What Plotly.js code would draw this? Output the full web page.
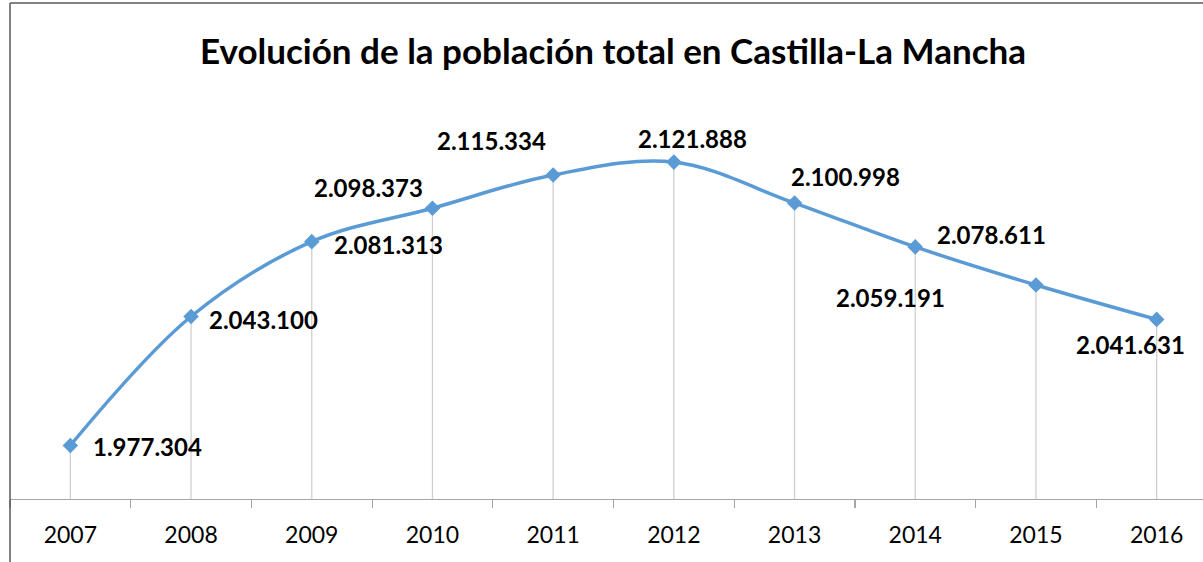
<!DOCTYPE html>
<html>
<head>
<meta charset="utf-8">
<script src="https://cdn.plot.ly/plotly-3.0.1.min.js"></script>
<style>
  html, body { margin: 0; padding: 0; background: #fff; overflow: hidden; width: 1203px; height: 562px; }
  #chart { width: 1217px; height: 562px; }
</style>
</head>
<body>
<div id="chart"></div>
<script>
// ---- data ----
const years = ['2007', '2008', '2009', '2010', '2011', '2012', '2013', '2014', '2015', '2016'];
const population = [1977304, 2043100, 2081313, 2098373, 2115334, 2121888, 2100998, 2078611, 2059191, 2041631];
const titleText = 'Evolución de la población total en Castilla-La Mancha';

// ---- label placement (pixel offsets from each point) ----
const labelShiftX = [77, 72, 77, -64, -62, 19, 51, 76, -145, -26];
const labelShiftY = [-1, -3, -3, 21, 34, 24, 27, 12, -13, -25];

const yMin = 1950000, yMax = 2150000;
const fmt = v => String(v).replace(/\B(?=(\d{3})+(?!\d))/g, '.');

const dropTrace = {
  x: years, y: population, type: 'scatter', mode: 'markers',
  marker: { size: 1, opacity: 0 },
  error_y: {
    type: 'data', symmetric: false,
    array: population.map(() => 0),
    arrayminus: population.map(v => v - yMin),
    color: '#d0d0d0', thickness: 1.3, width: 0
  },
  hoverinfo: 'skip', showlegend: false
};

const lineTrace = {
  x: years, y: population, type: 'scatter', mode: 'lines+markers',
  line: { color: '#5b9bd5', width: 3.5, shape: 'spline', smoothing: 1 },
  marker: { symbol: 'diamond', size: 12, color: '#5b9bd5' },
  hoverinfo: 'skip', showlegend: false
};

const annotations = population.map((v, i) => ({
  x: i, y: v, xref: 'x', yref: 'y', text: '<b>' + fmt(v) + '</b>', showarrow: false,
  xanchor: 'center', yanchor: 'middle', xshift: labelShiftX[i], yshift: labelShiftY[i],
  font: { family: 'Lato, sans-serif', size: 24, color: '#000' }
}));

annotations.push({
  xref: 'paper', yref: 'paper', x: (613 - 10) / 1207, y: (499 - 50) / 392,
  xanchor: 'center', yanchor: 'middle', showarrow: false,
  text: '<b>' + titleText + '</b>',
  font: { family: 'Lato, sans-serif', size: 35, color: '#000' }
});

const layout = {
  width: 1217, height: 562,
  margin: { l: 10, r: 0, t: 107, b: 63, pad: 0 },
  paper_bgcolor: '#fff', plot_bgcolor: '#fff',
  xaxis: {
    type: 'category', range: [-0.5, 9.5],
    tickson: 'boundaries', ticks: 'outside', ticklen: 8, tickcolor: '#a6a6a6', tickwidth: 1.2,
    showgrid: false, zeroline: false,
    showline: true, linecolor: '#a6a6a6', linewidth: 1.2,
    tickfont: { family: 'Lato, sans-serif', size: 23, color: '#000' },
    ticklabelstandoff: 15, fixedrange: true
  },
  yaxis: { range: [yMin, yMax], visible: false, fixedrange: true },
  annotations: annotations,
  shapes: [
    { type: 'line', xref: 'paper', yref: 'paper', x0: 0, x1: 0, y0: -0.3, y1: (499 - 3) / 392,
      line: { color: '#595959', width: 1.5 } },
    { type: 'line', xref: 'paper', yref: 'paper', x0: 0, x1: 1.05, y0: (499 - 3) / 392, y1: (499 - 3) / 392,
      line: { color: '#595959', width: 1.5 } }
  ],
  showlegend: false, hovermode: false
};

Plotly.newPlot('chart', [dropTrace, lineTrace], layout, { displayModeBar: false, staticPlot: true });
</script>
</body>
</html>
